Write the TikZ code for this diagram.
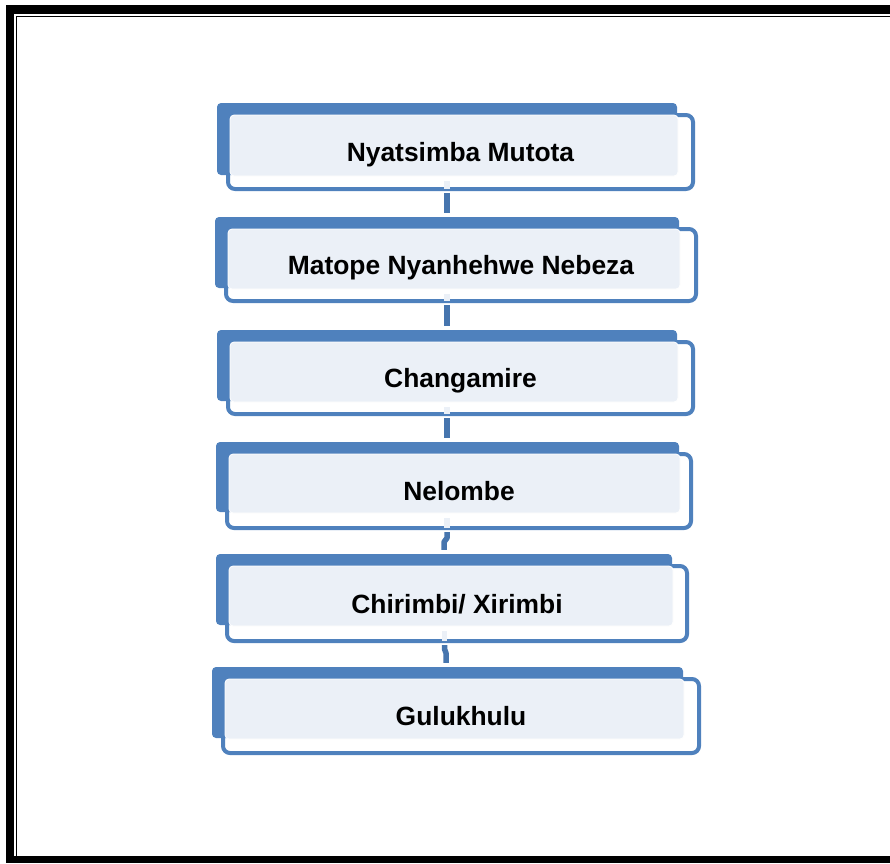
\documentclass[tikz,border=0pt]{standalone}
\usepackage{fontspec}
\setmainfont{Liberation Sans}
\usetikzlibrary{fit,calc}

\definecolor{tierblue}{HTML}{4F81BD}
\definecolor{tierlink}{HTML}{4675AE}
\definecolor{tierface}{HTML}{EBF0F7}

\tikzset{
  ringbox/.style={draw=tierblue, line width=4pt, fill=white, rounded corners=7pt, inner sep=0pt},
  backbox/.style={fill=tierblue, draw=none, rounded corners=4pt, inner sep=0pt},
  facebox/.style={fill=tierface, draw=white, line width=0.8pt, rounded corners=4pt, inner sep=0pt},
  tiertext/.style={font=\fontsize{26.4}{31}\selectfont\bfseries, text=black, inner sep=0pt},
  linkfade/.style={draw=tierface, line width=5.5pt},
  linkline/.style={draw=tierlink, line width=5.5pt, line join=round},
}

% one tier: name, label, blue block corners (x0,y0,x1,y1), outer corner of the ring (x1,y1)
\newcommand\tier[8]{%
  \node[ringbox, fit={(#3+11,#4+12)(#7-2,#8-2)}] (#1o) {};
  \node[backbox, fit={(#3,#4)(#5,#6)}] (#1b) {};
  \node[facebox, fit={(#3+13,#4+12)(#5+1,#6+1)}] (#1f) {};
  \node[tiertext, anchor=base] (#1t) at ($(#1o.center)+(0,9.5)$) {#2};
}

\begin{document}
\begin{tikzpicture}[x=1pt, y=-1pt]
\useasboundingbox (0,0) rectangle (890,863);

% double frame
\fill[black] (6,5) rectangle (890,14);
\fill[black] (6,5) rectangle (14,863);
\fill[black] (15.7,15.7) rectangle (890,17.3);
\fill[black] (15.7,15.7) rectangle (17.3,856);
\fill[black] (6,856) rectangle (890,863);

% tiers
\tier{a}{Nyatsimba Mutota}{217}{103}{677}{175}{695}{191}
\tier{b}{Matope Nyanhehwe Nebeza}{215}{217}{679}{288}{698}{303}
\tier{c}{Changamire}{217}{330}{677}{401}{695}{416}
\tier{d}{Nelombe}{216}{442}{679}{512}{693}{530}
\tier{e}{Chirimbi/ Xirimbi}{216}{554}{672}{625}{689}{643}
\tier{f}{Gulukhulu}{212}{667}{683}{738}{701}{755}

% connector columns
\coordinate (ka) at (447,0);
\coordinate (kb) at (447,0);
\coordinate (kc) at (447,0);
\coordinate (kd) at (447,0);
\coordinate (kd2) at (444,0);
\coordinate (ke) at (444.5,0);
\coordinate (ke2) at (446,0);

% links between tiers
\draw[linkfade] ([yshift=-5pt]af.south -| ka) -- ([yshift=2pt]ao.south -| ka);
\draw[linkline] ([yshift=-2pt]ao.south -| ka) -- ([yshift=4pt]bb.north -| ka);

\draw[linkfade] ([yshift=-5pt]bf.south -| kb) -- ([yshift=2pt]bo.south -| kb);
\draw[linkline] ([yshift=-2pt]bo.south -| kb) -- ([yshift=4pt]cb.north -| kb);

\draw[linkfade] ([yshift=-5pt]cf.south -| kc) -- ([yshift=2pt]co.south -| kc);
\draw[linkline] ([yshift=-2pt]co.south -| kc) -- ([yshift=4pt]db.north -| kc);

\draw[linkfade] ([yshift=-5pt]df.south -| kd) -- ([yshift=2pt]do.south -| kd);
\draw[linkline] ([yshift=-2pt]do.south -| kd) -- ++(0,6) -- ++(-3,4) -- ([yshift=4pt]eb.north -| kd2);

\draw[linkfade] ([yshift=-5pt]ef.south -| ke) -- ([yshift=2pt]eo.south -| ke);
\draw[linkline] ([yshift=-2pt]eo.south -| ke) -- ++(0,4) -- ++(1.5,4) -- ([yshift=4pt]fb.north -| ke2);
\end{tikzpicture}
\end{document}
